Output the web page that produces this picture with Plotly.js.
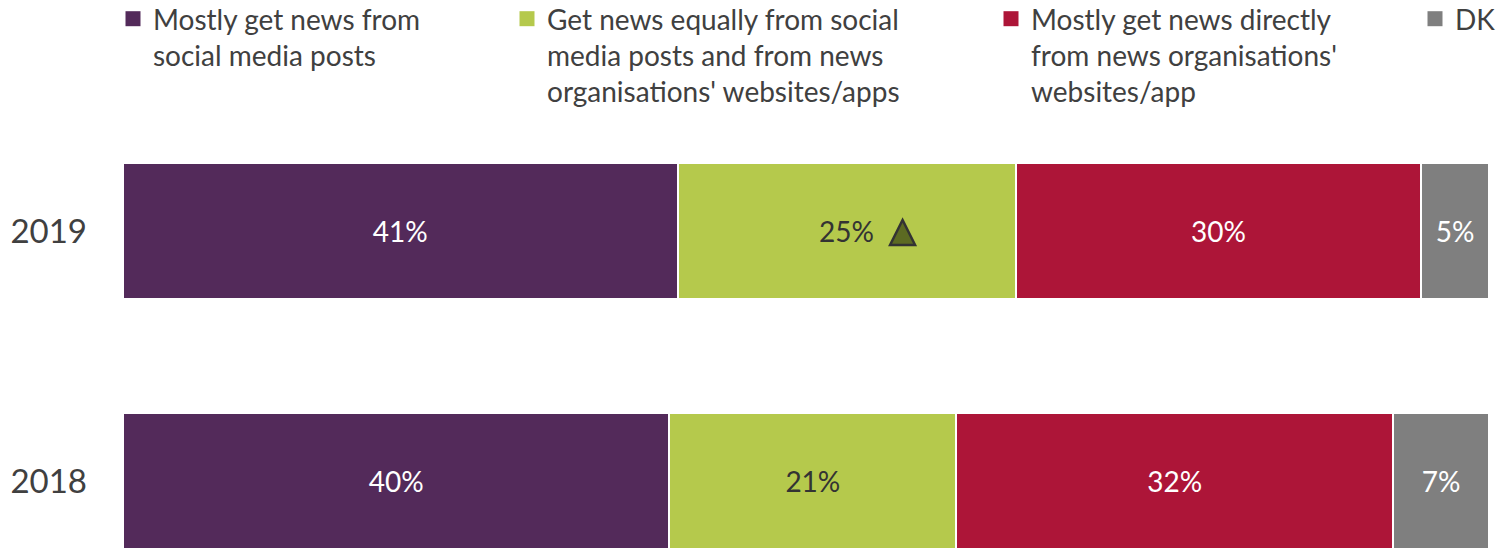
<!DOCTYPE html>
<html>
<head>
<meta charset="utf-8">
<script src="https://cdn.plot.ly/plotly-3.0.1.min.js"></script>
<style>html,body{margin:0;padding:0;background:#fff;}#chart{width:1508px;height:548px;}</style>
</head>
<body>
<div id="chart"></div>
<script>
// ---- data ----
const years = ['2019', '2018'];
const yearOrder = ['2018', '2019'];
const seriesNames = [
  'Mostly get news from<br>social media posts',
  'Get news equally from social<br>media posts and from news<br>organisations\' websites/apps',
  'Mostly get news directly<br>from news organisations\'<br>websites/app',
  'DK'
];
const socialOnly = [41, 40];
const equally = [25, 21];
const newsOrgs = [30, 32];
const dontKnow = [5, 7];
// significant increase marker (2019, "equally" series)
const sigUpYear = ['2019'];

// ---- styles ----
const colors = ['#532A5A', '#B5C94C', '#AD1538', '#7F7F7F'];
const labelColors = ['#FFFFFF', '#333333', '#FFFFFF', '#FFFFFF'];
const legendIds = ['legend', 'legend2', 'legend3', 'legend4'];
const allSeries = [socialOnly, equally, newsOrgs, dontKnow];
const FONT = 'Lato, "Open Sans", sans-serif';

const traces = allSeries.map((vals, i) => ({
  type: 'bar',
  orientation: 'h',
  name: seriesNames[i],
  y: years,
  x: vals,
  text: vals.map(v => v + '%'),
  textposition: 'inside',
  insidetextanchor: 'middle',
  textangle: 0,
  constraintext: 'none',
  textfont: {family: FONT, size: 28, color: labelColors[i]},
  marker: {color: colors[i], line: {color: '#FFFFFF', width: 2}},
  showlegend: false,
  hoverinfo: 'skip'
}));

// legend entries (square swatches)
seriesNames.forEach((nm, i) => {
  traces.push({
    type: 'scatter', mode: 'markers',
    name: nm, x: [null], y: [null],
    marker: {symbol: 'square', size: 15, color: colors[i]},
    legend: legendIds[i], showlegend: true, hoverinfo: 'skip'
  });
});

// triangle anchor just right of the "equally" label, derived from data
const triX = sigUpYear.map(yr => {
  const k = years.indexOf(yr);
  const total = allSeries.reduce((s, a) => s + a[k], 0);
  const centre = (socialOnly[k] + equally[k] / 2) / total * 100;
  return centre + 4.1;
});
const triShapes = sigUpYear.map((yr, j) => ({
  type: 'path',
  xref: 'x', yref: 'y',
  xsizemode: 'pixel', ysizemode: 'pixel',
  xanchor: triX[j], yanchor: yearOrder.indexOf(yr),
  path: 'M-12.5,-14L12.5,-14L0,11Z',
  fillcolor: '#5C6A22',
  opacity: 1,
  line: {color: '#333333', width: 2.5},
  layer: 'above'
}));

function legendAt(px, py) {
  return {
    orientation: 'h',
    xref: 'paper', yref: 'paper',
    x: (px - 123) / 1366, y: (548 - py) / 438,
    xanchor: 'left', yanchor: 'top',
    valign: 'top',
    bgcolor: 'rgba(0,0,0,0)',
    font: {family: FONT, size: 28, color: '#404040'},
    itemclick: false, itemdoubleclick: false,
    tracegroupgap: 0
  };
}

const layout = {
  width: 1508, height: 548,
  margin: {l: 123, r: 19, t: 110, b: 0, autoexpand: false},
  paper_bgcolor: '#FFFFFF', plot_bgcolor: '#FFFFFF',
  barmode: 'stack',
  barnorm: 'percent',
  bargap: 0.456,
  showlegend: true,
  legend: legendAt(113, -6),
  legend2: legendAt(507, -6),
  legend3: legendAt(991, -6),
  legend4: legendAt(1415, -6),
  shapes: triShapes,
  xaxis: {range: [0, 100], visible: false, fixedrange: true},
  yaxis: {
    type: 'category',
    categoryorder: 'array', categoryarray: yearOrder,
    range: [-0.268, 1.484],
    showgrid: false, zeroline: false, showline: false,
    ticks: '', ticklabelstandoff: 35,
    tickfont: {family: FONT, size: 33, color: '#404040'},
    fixedrange: true
  },
  font: {family: FONT, color: '#404040'}
};

Plotly.newPlot('chart', traces, layout, {displayModeBar: false, staticPlot: true});
</script>
</body>
</html>
